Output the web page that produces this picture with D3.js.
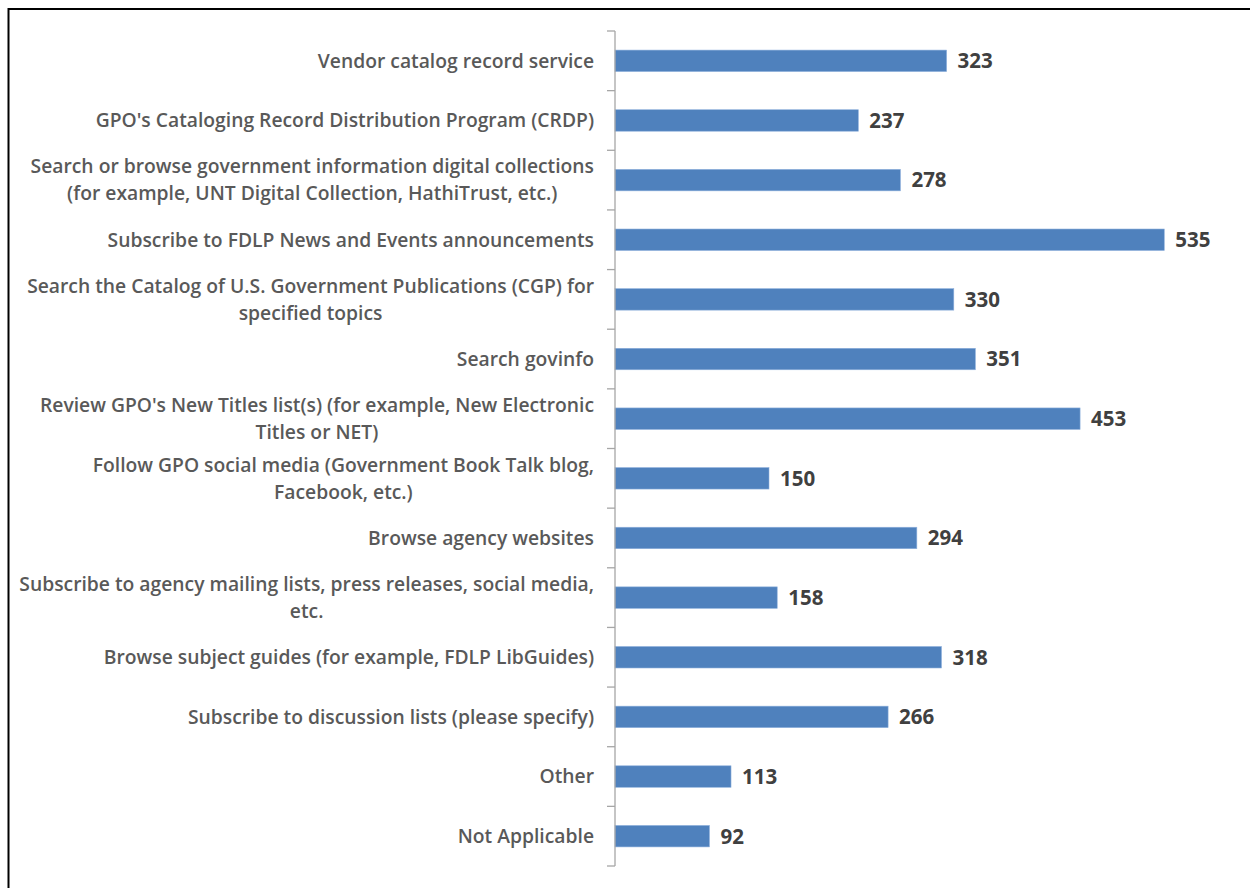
<!DOCTYPE html>
<html>
<head>
<meta charset="utf-8">
<script src="https://cdn.jsdelivr.net/npm/d3@7"></script>
<style>
    body { margin: 0; background: #fff; }
    svg { display: block; }
</style>
</head>
<body>
<svg id="chart" width="1250" height="888"></svg>
<script>
// categories, top to bottom; "|" marks a line break in the label
const categories = [
    "Vendor catalog record service",
    "GPO's Cataloging Record Distribution Program (CRDP)",
    "Search or browse government information digital collections|(for example, UNT Digital Collection, HathiTrust, etc.)",
    "Subscribe to FDLP News and Events announcements",
    "Search the Catalog of U.S. Government Publications (CGP) for|specified topics",
    "Search govinfo",
    "Review GPO's New Titles list(s) (for example, New Electronic|Titles or NET)",
    "Follow GPO social media (Government Book Talk blog,|Facebook, etc.)",
    "Browse agency websites",
    "Subscribe to agency mailing lists, press releases, social media,|etc.",
    "Browse subject guides (for example, FDLP LibGuides)",
    "Subscribe to discussion lists (please specify)",
    "Other",
    "Not Applicable"
];
const counts = [323, 237, 278, 535, 330, 351, 453, 150, 294, 158, 318, 266, 113, 92];

const width = 1250, height = 888;
const margin = {top: 31, right: 19, bottom: 22, left: 615};

const svg = d3.select("#chart");

// frame
svg.append("rect")
    .attr("x", 8.5)
    .attr("y", 9)
    .attr("width", 1260)
    .attr("height", 900)
    .attr("fill", "none")
    .attr("stroke", "#000")
    .attr("stroke-width", 2);

const x = d3.scaleLinear()
    .domain([0, 600])
    .range([margin.left, width - margin.right]);

const y = d3.scaleBand()
    .domain(categories)
    .range([margin.top, height - margin.bottom])
    .paddingInner(0.64)
    .paddingOuter(0.32);

const band = y.step();

// Bars
svg.selectAll("rect.bar")
    .data(categories)
    .enter()
    .append("rect")
    .attr("class", "bar")
    .attr("x", x(0))
    .attr("y", d => y(d))
    .attr("width", (d, i) => x(counts[i]) - x(0))
    .attr("height", y.bandwidth())
    .attr("fill", "#4f81bd")
    .attr("stroke", "#8eb0dc")
    .attr("stroke-width", 0.6);

// Axis
const axis = svg.append("g")
    .attr("transform", `translate(${x(0)},0)`);
axis.append("line")
    .attr("y1", margin.top)
    .attr("y2", height - margin.bottom)
    .attr("stroke", "#a6a6a6")
    .attr("stroke-width", 1.3);
axis.selectAll("line.tick")
    .data(d3.range(categories.length + 1))
    .enter()
    .append("line")
    .attr("class", "tick")
    .attr("x1", -8)
    .attr("x2", 0)
    .attr("y1", i => margin.top + i * band)
    .attr("y2", i => margin.top + i * band)
    .attr("stroke", "#a6a6a6")
    .attr("stroke-width", 1.3);

// Category labels (centered block, right aligned to the axis)
const labelFont = "'Open Sans', Lato, sans-serif";
const labelRight = x(0) - 21;
const lineGap = 27;

categories.forEach((c, i) => {
    const lines = c.split("|");
    const cy = y(c) + y.bandwidth() / 2;
    const g = svg.append("g");
    const texts = lines.map((t, k) => g.append("text")
        .attr("y", cy + (k - (lines.length - 1) / 2) * lineGap)
        .attr("dy", "0.35em")
        .attr("text-anchor", "middle")
        .style("font-family", labelFont)
        .style("font-size", "19.3px")
        .style("font-weight", 600)
        .attr("fill", "#595959")
        .text(t));
    const maxW = d3.max(texts, t => t.node().getComputedTextLength());
    texts.forEach(t => t.attr("x", labelRight - maxW / 2));
});

// Value labels
svg.selectAll("text.value")
    .data(categories)
    .enter()
    .append("text")
    .attr("class", "value")
    .attr("x", (d, i) => x(counts[i]) + 11)
    .attr("y", d => y(d) + y.bandwidth() / 2)
    .attr("dy", "0.36em")
    .style("font-family", labelFont)
    .style("font-size", "20.5px")
    .style("font-weight", 700)
    .attr("fill", "#404040")
    .text((d, i) => counts[i]);
</script>
</body>
</html>
